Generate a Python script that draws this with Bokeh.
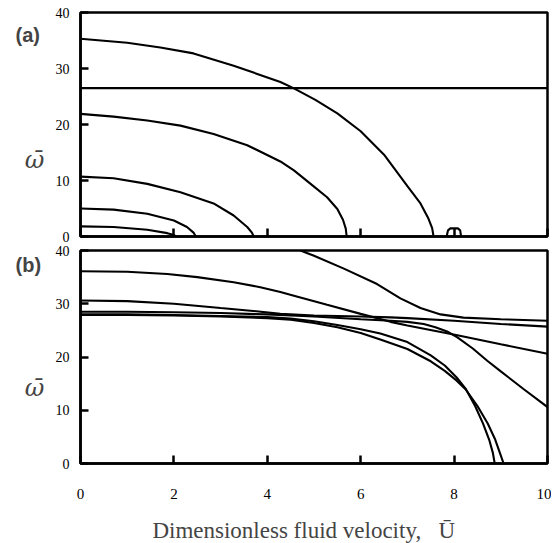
from bokeh.plotting import figure
from bokeh.layouts import column
from bokeh.models import Range1d, FixedTicker, Label
from bokeh.embed import file_html
from bokeh.resources import INLINE

# ---------------- data: panel (a) ----------------
a1_u = [0, 1.0, 1.71, 2.42, 3.28, 4.28, 4.56, 5.03, 5.5, 6.0, 6.5, 7.0, 7.28, 7.45, 7.53, 7.56]
a1_w = [35.3, 34.6, 33.75, 32.7, 30.5, 27.6, 26.5, 24.4, 22.0, 18.8, 14.6, 9.0, 5.9, 3.2, 1.5, 0.0]
a2_u = [0, 10]
a2_w = [26.5, 26.5]
a3_u = [0, 0.71, 1.43, 2.14, 2.85, 3.57, 4.28, 4.57, 5.0, 5.28, 5.5, 5.62, 5.68, 5.7]
a3_w = [21.9, 21.4, 20.7, 19.8, 18.3, 16.3, 13.4, 11.8, 8.9, 7.0, 4.9, 3.0, 1.4, 0.0]
a4_u = [0, 0.71, 1.43, 2.14, 2.85, 3.28, 3.57, 3.67, 3.71]
a4_w = [10.7, 10.4, 9.4, 7.9, 5.9, 3.75, 1.7, 0.7, 0.0]
a5_u = [0, 0.71, 1.43, 2.0, 2.28, 2.42, 2.47]
a5_w = [5.0, 4.8, 4.05, 2.86, 1.7, 0.7, 0.0]
a6_u = [0, 0.71, 1.43, 1.86, 2.0, 2.05]
a6_w = [1.8, 1.7, 1.2, 0.6, 0.25, 0.0]
a7_u = [7.84, 7.87, 7.92, 8.08, 8.13, 8.15]
a7_w = [0.0, 1.1, 1.45, 1.45, 1.1, 0.0]

# ---------------- data: panel (b) ----------------
bA_u = [4.71, 5.0, 5.64, 6.35, 6.85, 7.28, 7.71, 8.2, 9.0, 10.0]
bA_w = [40.0, 39.0, 36.6, 33.7, 31.0, 29.2, 28.0, 27.4, 27.1, 26.8]
bB_u = [0, 1, 2, 3, 3.64, 4.28, 5, 6, 6.64, 7, 8, 9, 10]
bB_w = [30.6, 30.5, 30.0, 29.2, 28.7, 28.1, 27.8, 27.6, 27.45, 27.3, 26.8, 26.2, 25.7]
bC_u = [0, 1, 1.86, 2.5, 3.28, 3.85, 4.28, 4.57, 5.28, 6.0, 6.64, 7.0, 8.07, 9.0, 10]
bC_w = [36.1, 36.0, 35.6, 35.0, 34.05, 33.1, 32.2, 31.5, 29.8, 28.1, 26.6, 25.9, 24.1, 22.4, 20.6]
bD_u = [0, 1, 2, 3, 4, 5, 6, 6.64, 7.0, 7.35, 7.6, 7.85, 8.07, 8.4, 8.71, 9.0, 9.5, 10]
bD_w = [28.5, 28.5, 28.4, 28.25, 28.0, 27.6, 27.1, 26.8, 26.6, 26.2, 25.6, 24.8, 23.7, 21.6, 19.3, 17.3, 13.9, 10.6]
bP_u = [0, 1, 2, 3, 4, 4.5, 5, 5.5, 6, 6.42, 7, 7.5, 7.8, 8.05, 8.25, 8.45, 8.62, 8.75, 8.83, 8.87]
bP_w = [28.0, 28.0, 27.9, 27.7, 27.5, 27.2, 26.7, 26.0, 25.2, 24.4, 22.8, 20.3, 18.4, 16.2, 14.0, 10.8, 7.5, 4.5, 2.0, 0.0]
bQ_u = [0, 1, 2, 3, 4, 4.5, 5, 5.5, 6, 6.42, 7, 7.5, 7.8, 8.05, 8.25, 8.5, 8.72, 8.88, 8.98, 9.06]
bQ_w = [27.9, 27.9, 27.8, 27.6, 27.3, 27.0, 26.4, 25.6, 24.5, 23.3, 21.5, 19.2, 17.4, 15.6, 13.9, 10.8, 7.5, 4.5, 2.0, 0.0]

x_ticks = [0, 2, 4, 6, 8, 10]
y_ticks = [0, 10, 20, 30, 40]
x_title = "Dimensionless fluid velocity,\u00a0\u00a0\u00a0\u016a"
y_title = "\u03c9\u0304"

SERIF = "Liberation Serif"


def make_fig(height, border_top, border_bottom, show_x_labels):
    p = figure(width=551, height=height, output_backend="svg", toolbar_location=None,
               x_range=Range1d(0, 10), y_range=Range1d(0, 40),
               min_border_left=80, min_border_right=4,
               min_border_top=border_top, min_border_bottom=border_bottom)
    p.xgrid.visible = False
    p.ygrid.visible = False
    p.outline_line_color = "black"
    p.outline_line_width = 2.5
    p.outline_line_alpha = 1
    for ax in (p.xaxis[0], p.yaxis[0]):
        ax.axis_line_width = 2.5
        ax.major_tick_in = 8
        ax.major_tick_out = 0
        ax.major_tick_line_width = 2.5
        ax.minor_tick_line_color = None
        ax.major_label_text_font = SERIF
        ax.major_label_text_color = "black"
    p.xaxis.ticker = FixedTicker(ticks=x_ticks)
    p.yaxis.ticker = FixedTicker(ticks=y_ticks)
    p.yaxis.major_label_text_font_size = "14px"
    p.yaxis.major_label_standoff = 11
    if show_x_labels:
        p.xaxis.major_label_text_font_size = "15px"
        p.xaxis.major_label_standoff = 25
    else:
        p.xaxis.major_label_text_font_size = "1px"
        p.xaxis.major_label_text_color = None
        p.xaxis.major_label_standoff = 0
    return p


pa = make_fig(243, 12, 7, False)
for u, w in [(a1_u, a1_w), (a2_u, a2_w), (a3_u, a3_w), (a4_u, a4_w),
             (a5_u, a5_w), (a6_u, a6_w), (a7_u, a7_w)]:
    pa.line(u, w, line_color="black", line_width=2.1)

pb = make_fig(300, 7, 80, True)
for u, w in [(bA_u, bA_w), (bB_u, bB_w), (bC_u, bC_w), (bD_u, bD_w),
             (bP_u, bP_w), (bQ_u, bQ_w)]:
    pb.line(u, w, line_color="black", line_width=2.1)

# panel letters and y symbols (placed in the left side panel so they are not clipped)
pa.add_layout(Label(x=-1.39, y=35.9, text="(a)", text_font="Liberation Sans",
                    text_font_style="bold", text_font_size="20px",
                    text_align="left", text_baseline="middle"), "left")
pb.add_layout(Label(x=-1.39, y=37.2, text="(b)", text_font="Liberation Sans",
                    text_font_style="bold", text_font_size="20px",
                    text_align="left", text_baseline="middle"), "left")
pa.add_layout(Label(x=-0.985, y=13.6, text=y_title, text_font="DejaVu Serif",
                    text_font_style="italic", text_font_size="24px",
                    text_align="center", text_baseline="middle"), "left")
pb.add_layout(Label(x=-0.985, y=14.1, text=y_title, text_font="DejaVu Serif",
                    text_font_style="italic", text_font_size="24px",
                    text_align="center", text_baseline="middle"), "left")

# x axis title
pb.add_layout(Label(x=1.54, y=-12.6, text=x_title, text_font=SERIF,
                    text_font_size="23px", text_align="left", text_baseline="alphabetic"), "below")

layout = column(pa, pb)
open("out.html", "w").write(file_html(layout, INLINE))
